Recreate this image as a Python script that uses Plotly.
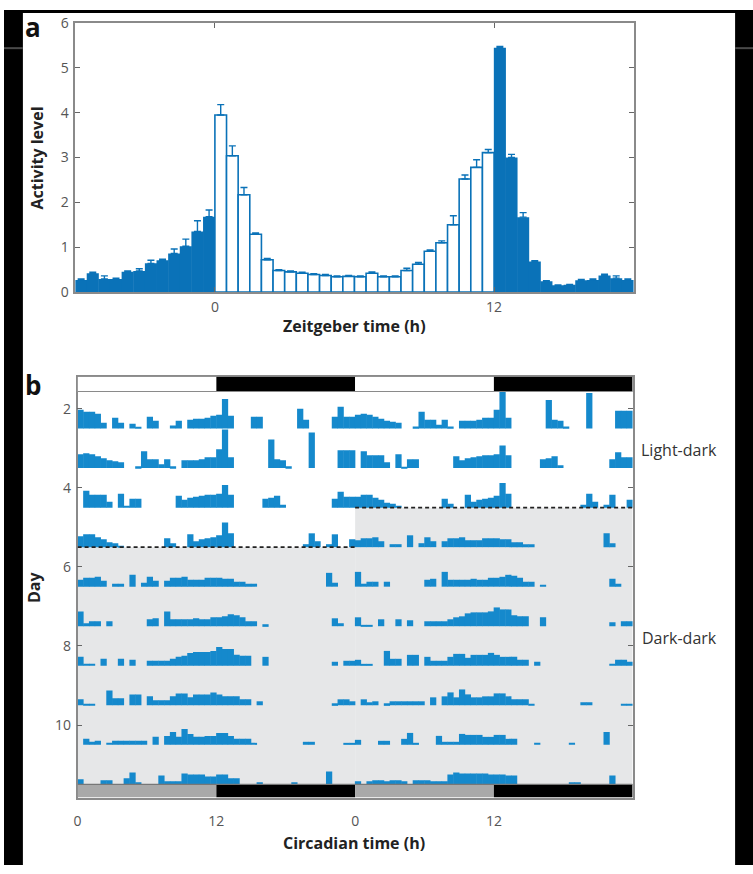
import plotly.graph_objects as go

W, H = 753, 874

# ---------------- Panel a data ----------------
zt_pre = [-5.75, -5.25, -4.75, -4.25, -3.75, -3.25, -2.75, -2.25, -1.75, -1.25, -0.75, -0.25]
act_pre = [0.27, 0.42, 0.29, 0.29, 0.45, 0.47, 0.64, 0.71, 0.86, 1.02, 1.35, 1.68]
err_pre = [0.02, 0.02, 0.07, 0.02, 0.02, 0.05, 0.07, 0.02, 0.10, 0.16, 0.24, 0.15]

zt_light = [0.25, 0.75, 1.25, 1.75, 2.25, 2.75, 3.25, 3.75, 4.25, 4.75, 5.25, 5.75,
            6.25, 6.75, 7.25, 7.75, 8.25, 8.75, 9.25, 9.75, 10.25, 10.75, 11.25, 11.75]
act_light = [3.95, 3.04, 2.17, 1.29, 0.72, 0.48, 0.45, 0.42, 0.39, 0.37, 0.34, 0.35,
             0.34, 0.42, 0.34, 0.34, 0.48, 0.62, 0.91, 1.10, 1.50, 2.52, 2.78, 3.11]
err_light = [0.23, 0.22, 0.16, 0.03, 0.03, 0.02, 0.02, 0.02, 0.02, 0.02, 0.02, 0.02,
             0.02, 0.03, 0.02, 0.02, 0.05, 0.04, 0.03, 0.04, 0.20, 0.09, 0.17, 0.07]

zt_post = [12.25, 12.75, 13.25, 13.75, 14.25, 14.75, 15.25, 15.75, 16.25, 16.75, 17.25, 17.75]
act_post = [5.45, 3.00, 1.67, 0.68, 0.24, 0.15, 0.16, 0.26, 0.27, 0.37, 0.31, 0.27]
err_post = [0.03, 0.07, 0.10, 0.02, 0.01, 0.01, 0.01, 0.02, 0.02, 0.03, 0.05, 0.02]

zt_ticks = [0, 12]
act_ticks = [0, 1, 2, 3, 4, 5, 6]

# ---------------- Panel b data (actogram, half-hour bins, counts) ----------------
ct_bins = [0.25 + 0.5 * i for i in range(48)]
counts_per_row = 40.0

day2 = [19, 17, 17, 15, 6, 0, 11, 6, 0, 5, 1, 0, 12, 8, 0, 0, 3, 8, 0, 9, 10, 10, 11, 13,
        14, 30, 13, 0, 0, 0, 12, 12, 0, 0, 0, 0, 0, 0, 20, 9, 0, 0, 0, 0, 12, 22, 12, 12]
day3 = [14, 15, 14, 12, 10, 8, 7, 6, 0, 0, 2, 17, 9, 9, 4, 9, 2, 0, 8, 8, 8, 9, 11, 11,
        19, 39, 11, 0, 0, 0, 0, 0, 0, 29, 9, 8, 2, 0, 0, 0, 36, 0, 0, 0, 0, 18, 18, 18]
day4 = [0, 17, 13, 13, 13, 6, 0, 14, 1, 9, 9, 0, 0, 0, 0, 0, 0, 12, 8, 10, 11, 12, 13, 13,
        14, 23, 13, 0, 0, 0, 0, 0, 9, 10, 12, 3, 0, 0, 0, 0, 0, 0, 0, 0, 9, 16, 11, 11]
day5 = [11, 13, 13, 10, 8, 5, 4, 1, 0, 0, 0, 0, 0, 0, 0, 9, 4, 0, 0, 13, 6, 8, 9, 10,
        12, 25, 14, 0, 0, 0, 0, 0, 0, 0, 0, 0, 0, 0, 0, 3, 14, 6, 0, 3, 13, 0, 0, 8]
day6 = [7, 9, 9, 10, 6, 0, 3, 3, 0, 12, 0, 4, 10, 6, 0, 6, 9, 9, 10, 7, 7, 7, 9, 9,
        9, 8, 8, 5, 5, 3, 3, 0, 0, 0, 0, 0, 0, 0, 0, 0, 0, 0, 0, 14, 4, 0, 0, 0]
day7 = [15, 3, 5, 5, 0, 5, 0, 0, 0, 0, 0, 0, 7, 8, 0, 15, 7, 7, 7, 7, 8, 7, 7, 9,
        9, 10, 12, 11, 9, 5, 5, 0, 2, 0, 0, 0, 0, 0, 0, 0, 0, 0, 0, 0, 8, 3, 0, 0]
day8 = [9, 1, 1, 0, 7, 0, 0, 7, 0, 6, 0, 0, 5, 5, 5, 5, 7, 9, 10, 13, 14, 14, 14, 15,
        19, 17, 17, 11, 10, 10, 0, 0, 9, 0, 0, 0, 0, 0, 0, 0, 0, 0, 0, 0, 4, 0, 5, 5]
day9 = [6, 1, 1, 0, 0, 15, 7, 7, 0, 11, 11, 0, 9, 5, 5, 5, 9, 12, 12, 8, 11, 11, 11, 13,
        11, 9, 9, 9, 6, 6, 0, 4, 0, 0, 0, 0, 0, 0, 0, 0, 0, 0, 0, 0, 2, 6, 6, 4]
day10 = [0, 6, 3, 4, 0, 2, 4, 4, 4, 4, 4, 4, 0, 8, 0, 9, 13, 8, 16, 11, 8, 8, 9, 9,
         12, 12, 9, 6, 6, 6, 1, 0, 0, 0, 0, 0, 0, 0, 0, 3, 3, 0, 0, 0, 0, 0, 1, 1]
day11 = [5, 0, 0, 0, 4, 4, 0, 0, 6, 12, 2, 0, 0, 0, 9, 3, 3, 3, 11, 10, 10, 10, 8, 8,
         10, 10, 6, 6, 0, 0, 0, 2, 0, 0, 0, 0, 0, 2, 0, 0, 0, 0, 0, 13, 0, 0, 0, 0]
day12 = [3, 0, 3, 4, 4, 3, 4, 4, 3, 0, 4, 4, 4, 3, 3, 3, 10, 12, 11, 11, 11, 11, 11, 10,
         10, 10, 9, 9, 0, 0, 0, 0, 0, 0, 0, 0, 0, 2, 2, 0, 0, 0, 0, 0, 9, 0, 0, 0]

days = {2: day2, 3: day3, 4: day4, 5: day5, 6: day6, 7: day7, 8: day8,
        9: day9, 10: day10, 11: day11, 12: day12}
row_days = [2, 3, 4, 5, 6, 7, 8, 9, 10, 11]
day_ticks = [2, 4, 6, 8, 10]
ct_tickvals = [0, 12, 24, 36]
ct_ticktext = ["0", "12", "0", "12"]

# ---------------- styling ----------------
BLUE_A = "#0a72b8"
BLUE_B = "#1589cc"
AX = "#8a8a8a"
FONT = "Open Sans"


def px_x(p):
    return p / W


def px_y(p):
    return 1 - p / H


fig = go.Figure()

err_style = dict(type="data", symmetric=False, color=BLUE_A, thickness=1.4, width=3.5)

fig.add_trace(go.Bar(x=zt_pre, y=act_pre, width=0.52,
                     marker=dict(color=BLUE_A, line=dict(width=0)),
                     error_y=dict(array=err_pre, arrayminus=[0] * len(err_pre), **err_style),
                     xaxis="x", yaxis="y", showlegend=False))
fig.add_trace(go.Bar(x=zt_post, y=act_post, width=0.52,
                     marker=dict(color=BLUE_A, line=dict(width=0)),
                     error_y=dict(array=err_post, arrayminus=[0] * len(err_post), **err_style),
                     xaxis="x", yaxis="y", showlegend=False))
fig.add_trace(go.Bar(x=zt_light, y=act_light, width=0.5,
                     marker=dict(color="white", line=dict(color=BLUE_A, width=1.6)),
                     error_y=dict(array=err_light, arrayminus=[0] * len(err_light), **err_style),
                     xaxis="x", yaxis="y", showlegend=False))

# actogram (double plotted)
xs, ys, bases = [], [], []
for d in row_days:
    for offset, dd in ((0, d), (24, d + 1)):
        for t, v in zip(ct_bins, days[dd]):
            if v > 0:
                xs.append(t + offset)
                ys.append(-v / counts_per_row)
                bases.append(d + 0.5)
fig.add_trace(go.Bar(x=xs, y=ys, base=bases, width=0.54,
                     marker=dict(color=BLUE_B, line=dict(width=0)),
                     xaxis="x2", yaxis="y2", showlegend=False))

shapes = []
# dark-dark background
shapes.append(dict(type="rect", xref="x2", yref="y2", x0=0, x1=24, y0=5.5, y1=11.5,
                   fillcolor="#e6e7e8", line=dict(width=0), layer="below"))
shapes.append(dict(type="rect", xref="x2", yref="y2", x0=24, x1=48, y0=4.5, y1=11.5,
                   fillcolor="#e6e7e8", line=dict(width=0), layer="below"))
# dashed transition lines
shapes.append(dict(type="line", xref="x2", yref="y2", x0=0, x1=24, y0=5.5, y1=5.5,
                   line=dict(color="#222", width=1.6, dash="4px,3px"), layer="above"))
shapes.append(dict(type="line", xref="x2", yref="y2", x0=24, x1=48, y0=4.5, y1=4.5,
                   line=dict(color="#222", width=1.6, dash="4px,3px"), layer="above"))
# top light/dark bar
ld_top0, ld_top1 = 1.191, 1.562
for x0, x1, c in ((0, 12, "white"), (12, 24, "black"), (24, 36, "white"), (36, 48, "black")):
    shapes.append(dict(type="rect", xref="x2", yref="y2", x0=x0, x1=x1, y0=ld_top0, y1=ld_top1,
                       fillcolor=c, line=dict(width=0), layer="above"))
shapes.append(dict(type="line", xref="x2", yref="y2", x0=0, x1=48, y0=ld_top1, y1=ld_top1,
                   line=dict(color=AX, width=1.2), layer="above"))
# bottom subjective day/night bar
bt0, bt1 = 11.5, 11.834
for x0, x1, c in ((0, 12, "#a9a9a9"), (12, 24, "black"), (24, 36, "#a9a9a9"), (36, 48, "black")):
    shapes.append(dict(type="rect", xref="x2", yref="y2", x0=x0, x1=x1, y0=bt0, y1=bt1,
                       fillcolor=c, line=dict(width=0), layer="above"))
shapes.append(dict(type="line", xref="x2", yref="y2", x0=0, x1=48, y0=bt0, y1=bt0,
                   line=dict(color="#777", width=1.2), layer="above"))

# page frame (black borders of the source scan)
shapes.append(dict(type="rect", xref="paper", yref="paper", x0=0, x1=px_x(19), y0=0, y1=1,
                   fillcolor="black", line=dict(width=0), layer="above"))
shapes.append(dict(type="rect", xref="paper", yref="paper", x0=px_x(735), x1=1, y0=0, y1=1,
                   fillcolor="black", line=dict(width=0), layer="above"))
shapes.append(dict(type="rect", xref="paper", yref="paper", x0=0, x1=1, y0=px_y(3), y1=1,
                   fillcolor="black", line=dict(width=0), layer="above"))
for x0, x1 in ((0, 19), (735, 753)):
    shapes.append(dict(type="line", xref="paper", yref="paper", x0=px_x(x0), x1=px_x(x1),
                       y0=px_y(39), y1=px_y(39), line=dict(color="#4a4a4a", width=2), layer="above"))

tickfont = dict(family=FONT, size=14, color="#555")
title_font = dict(family=FONT, size=16, color="#222")

annotations = [
    dict(text="<b>a</b>", x=px_x(19), y=px_y(17), xanchor="left", yanchor="middle",
         font=dict(family=FONT, size=26, color="#111")),
    dict(text="<b>b</b>", x=px_x(19), y=px_y(383), xanchor="left", yanchor="middle",
         font=dict(family=FONT, size=26, color="#111")),
    dict(text="<b>Activity level</b>", x=px_x(33), y=px_y(151), textangle=-90,
         xanchor="center", yanchor="middle", font=title_font),
    dict(text="<b>Zeitgeber time (h)</b>", x=px_x(352), y=px_y(323),
         xanchor="center", yanchor="middle", font=title_font),
    dict(text="<b>Day</b>", x=px_x(30), y=px_y(590), textangle=-90,
         xanchor="center", yanchor="middle", font=title_font),
    dict(text="<b>Circadian time (h)</b>", x=px_x(352), y=px_y(851),
         xanchor="center", yanchor="middle", font=title_font),
    dict(text="Light-dark", x=px_x(638), y=px_y(450), xanchor="left", yanchor="middle",
         font=dict(family=FONT, size=16, color="#333")),
    dict(text="Dark-dark", x=px_x(639), y=px_y(642), xanchor="left", yanchor="middle",
         font=dict(family=FONT, size=16, color="#333")),
]
for a in annotations:
    a.update(xref="paper", yref="paper", showarrow=False)

axis_common = dict(showline=True, linecolor=AX, linewidth=1.5, mirror="ticks",
                   showgrid=False, zeroline=False, ticks="inside", ticklen=5,
                   tickcolor="#666", tickwidth=1, tickfont=tickfont)

fig.update_layout(
    width=W, height=H, margin=dict(l=0, r=0, t=0, b=0),
    paper_bgcolor="white", plot_bgcolor="white",
    barmode="overlay", showlegend=False,
    xaxis=dict(domain=[px_x(71.7), px_x(633)], range=[-6, 18], tickvals=zt_ticks,
               anchor="y", ticklabelstandoff=1, **axis_common),
    yaxis=dict(domain=[px_y(288.3), px_y(13.3)], range=[0, 6], tickvals=act_ticks,
               anchor="x", ticklabelstandoff=2, **axis_common),
    xaxis2=dict(domain=[px_x(74), px_x(632)], range=[0, 48], tickvals=ct_tickvals,
                ticktext=ct_ticktext, anchor="y2", ticklabelstandoff=10,
                **{**axis_common, "ticks": ""}),
    yaxis2=dict(domain=[px_y(805), px_y(375)], range=[11.834, 1.191], tickvals=day_ticks,
                anchor="x2", ticklabelstandoff=2, **axis_common),
    shapes=shapes, annotations=annotations,
)

fig.write_html("out.html")
